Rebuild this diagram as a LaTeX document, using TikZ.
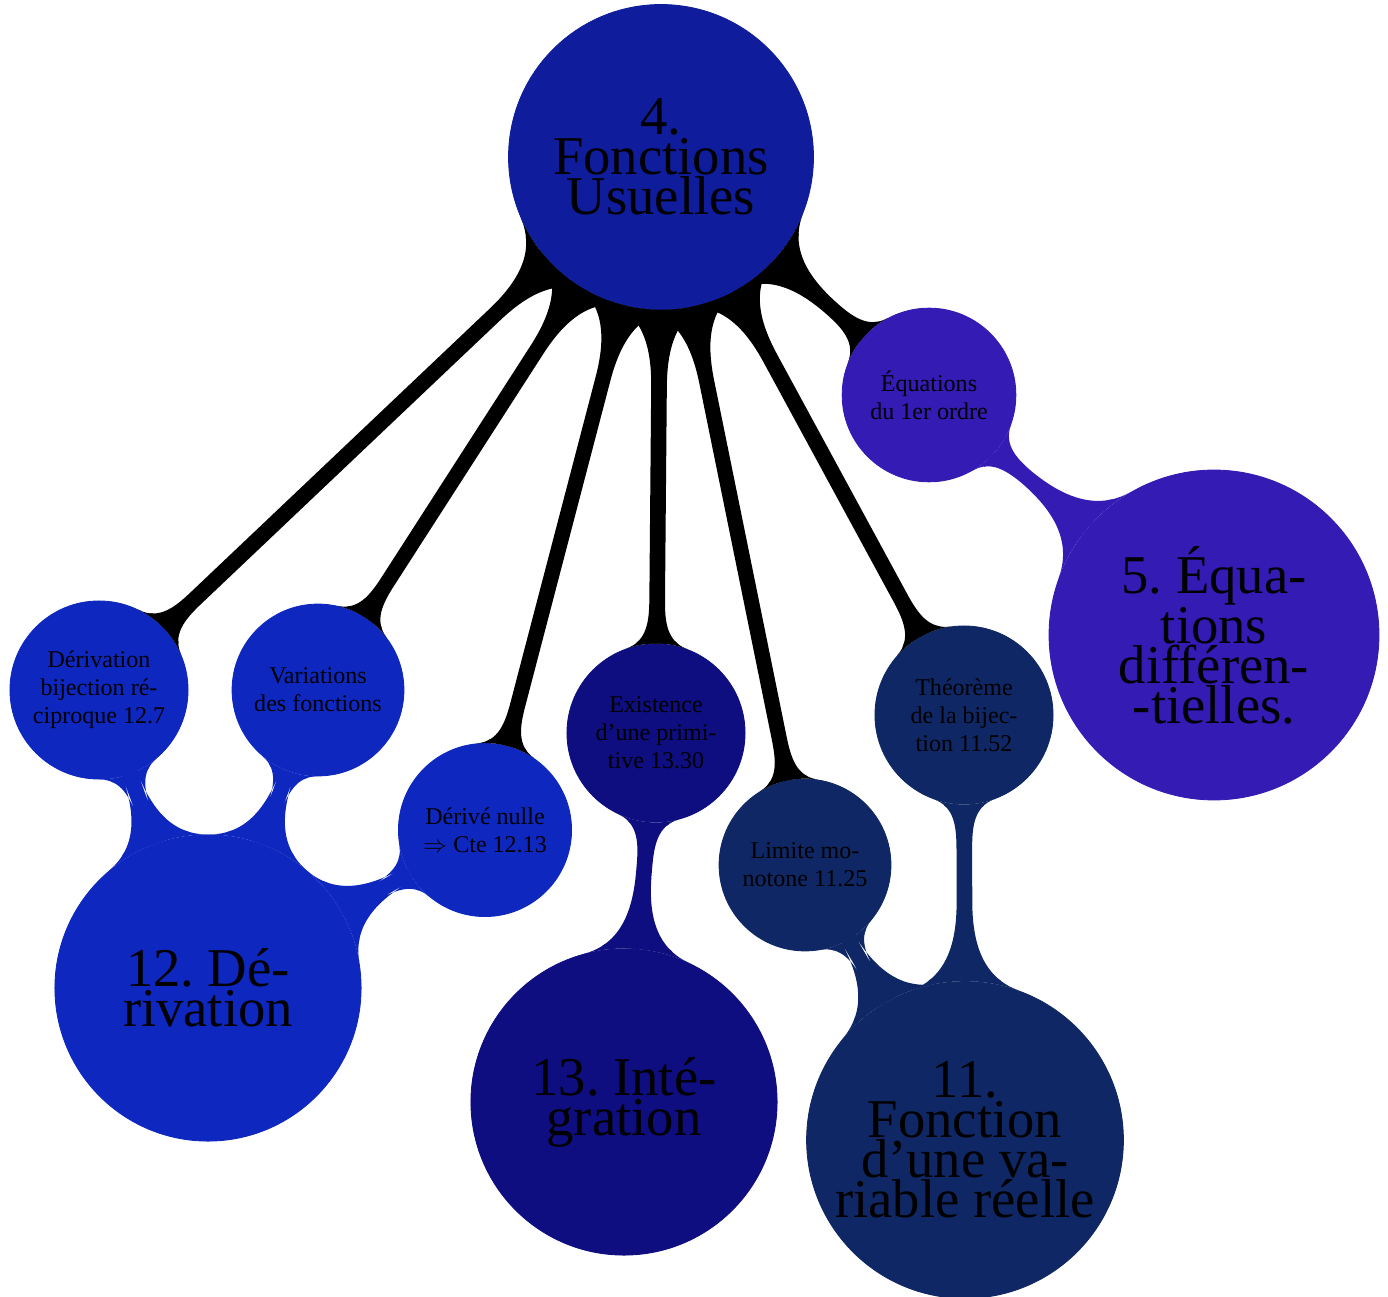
\documentclass[tikz,border=0pt]{standalone}
\usepackage{fontspec}
\setmainfont{Liberation Serif}
\usepackage{amsmath}
\usetikzlibrary{mindmap}
\frenchspacing

\definecolor{usuellescol}{RGB}{15,28,155}
\definecolor{equadiffcol}{RGB}{51,27,180}
\definecolor{derivcol}{RGB}{14,39,191}
\definecolor{integcol}{RGB}{14,14,128}
\definecolor{fonctcol}{RGB}{15,39,100}

\begin{document}
\begin{tikzpicture}[x=0.016cm,y=-0.016cm,
    chapter/.style={concept,circle,minimum size=#1,inner sep=0pt,align=center,
      font=\fontsize{24.88}{18.2}\selectfont},
    result/.style={concept,circle,minimum size=#1,inner sep=0pt,align=center,
      font=\fontsize{10.95}{12.75}\selectfont},
    blackbar/.style={line width=2.3mm,circle connection bar switch color=from (black) to (black)},
    colorbar/.style={line width=2.3mm,circle connection bar switch color=from (#1) to (#1)}]
        \useasboundingbox (0,0) rectangle (1388,1297);

        % Chapitres
        \node[chapter=4.88cm,concept color=usuellescol] (usuelles) at (661,157) {4.\\Fonctions\\Usuelles};
        \node[chapter=5.28cm,concept color=equadiffcol] (equadiff) at (1214,635) {5. Équa-\\tions\\différen-\\-tielles.};
        \node[chapter=4.9cm,concept color=derivcol] (deriv) at (208,988) {12. Dé-\\rivation};
        \node[chapter=4.9cm,concept color=integcol] (integ) at (624,1102) {13. Inté-\\gration};
        \node[chapter=5.07cm,concept color=fonctcol] (fonct) at (965,1140) {11.\\Fonction\\d’une va-\\riable réelle};

        % Resultats
        \node[result=2.85cm,concept color=derivcol] (derivbij) at (99,690) {Dérivation\\bijection ré-\\ciproque 12.7};
        \node[result=2.75cm,concept color=derivcol] (variations) at (318,690) {Variations\\des fonctions};
        \node[result=2.77cm,concept color=derivcol] (derivnulle) at (485,830) {Dérivé nulle\\$\Rightarrow$ Cte 12.13};
        \node[result=2.85cm,concept color=integcol] (primitive) at (656,733) {Existence\\d’une primi-\\tive 13.30};
        \node[result=2.75cm,concept color=fonctcol] (limmono) at (805,865) {Limite mo-\\notone 11.25};
        \node[result=2.85cm,concept color=fonctcol] (bijection) at (964,715) {Théorème\\de la bijec-\\tion 11.52};
        \node[result=2.78cm,concept color=equadiffcol] (premordre) at (929,395) {Équations\\du 1er ordre};

        % Liens
        \foreach \r in {derivbij,variations,derivnulle,primitive,limmono,bijection,premordre}
            \path (usuelles) to[blackbar] (\r);
        \path (derivbij) to[colorbar=derivcol] (deriv);
        \path (variations) to[colorbar=derivcol] (deriv);
        \path (derivnulle) to[colorbar=derivcol] (deriv);
        \path (primitive) to[colorbar=integcol] (integ);
        \path (limmono) to[colorbar=fonctcol] (fonct);
        \path (bijection) to[colorbar=fonctcol] (fonct);
        \path (premordre) to[colorbar=equadiffcol] (equadiff);
    \end{tikzpicture}
\end{document}
